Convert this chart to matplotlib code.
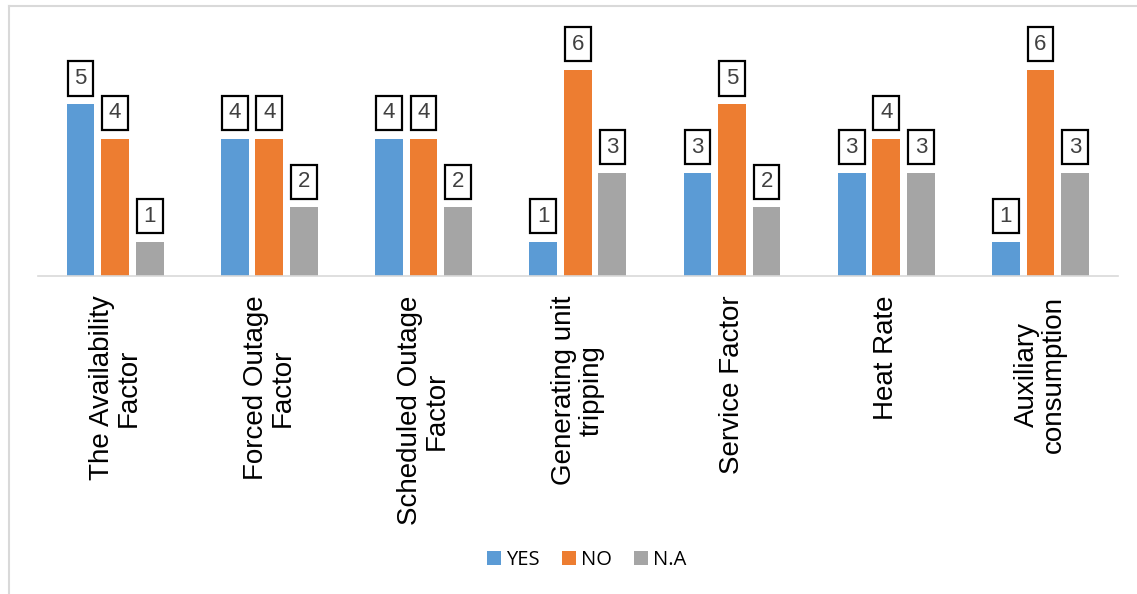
import numpy as np
import matplotlib.pyplot as plt
from matplotlib.lines import Line2D

categories = ['The Availability\nFactor', 'Forced Outage\nFactor', 'Scheduled Outage\nFactor',
              'Generating unit\ntripping', 'Service Factor', 'Heat Rate', 'Auxiliary\nconsumption']
yes_vals = [5, 4, 4, 1, 3, 3, 1]
no_vals = [4, 4, 4, 6, 5, 4, 6]
na_vals = [1, 2, 2, 3, 2, 3, 3]
series_names = ['YES', 'NO', 'N.A']
colors = ['#5B9BD5', '#ED7D31', '#A5A5A5']

plt.rcParams['font.family'] = ['Liberation Sans', 'DejaVu Sans']

fig = plt.figure(figsize=(11.37, 5.94), dpi=100)
ax = fig.add_axes([0.0334, 0.535, 0.9496, 0.405])

x = np.arange(len(categories))
width = 0.18
offset = 0.224
for i, (vals, name, col) in enumerate(zip([yes_vals, no_vals, na_vals], series_names, colors)):
    pos = x + (i - 1) * offset
    ax.bar(pos, vals, width, color=col, label=name)
    for p, v in zip(pos, vals):
        ax.annotate(str(v), (p, v), xytext=(0, 11), textcoords='offset points',
                    ha='center', va='bottom', fontsize=16, color='#404040',
                    bbox=dict(boxstyle='square,pad=0.3', fc='white', ec='black', lw=1.6))

ax.set_xlim(-0.5, len(categories) - 0.5)
ax.set_ylim(0, 7.0)
ax.set_yticks([])
for s in ['top', 'right', 'left']:
    ax.spines[s].set_visible(False)
ax.spines['bottom'].set_color('#D9D9D9')
ax.spines['bottom'].set_linewidth(1.2)
ax.set_xticks(x)
ax.set_xticklabels(categories, rotation=90, fontsize=20, va='top', ha='center',
                   linespacing=1.05)
ax.tick_params(axis='x', length=0, pad=14)

ax.legend(loc='center', bbox_to_anchor=(587 / 1137, 34 / 594), bbox_transform=fig.transFigure,
          ncol=3, frameon=False, prop={'family': 'Open Sans', 'size': 14.5},
          handlelength=0.7, handleheight=0.7, handletextpad=0.25, columnspacing=1.1)

# light frame lines at left/top like the source document
fig.add_artist(Line2D([9 / 1137, 9 / 1137], [0, 1 - 6 / 594], color='#D9D9D9', lw=1.5))
fig.add_artist(Line2D([9 / 1137, 1], [1 - 6 / 594, 1 - 6 / 594], color='#D9D9D9', lw=1.5))

fig.savefig('out.png', dpi=100)
